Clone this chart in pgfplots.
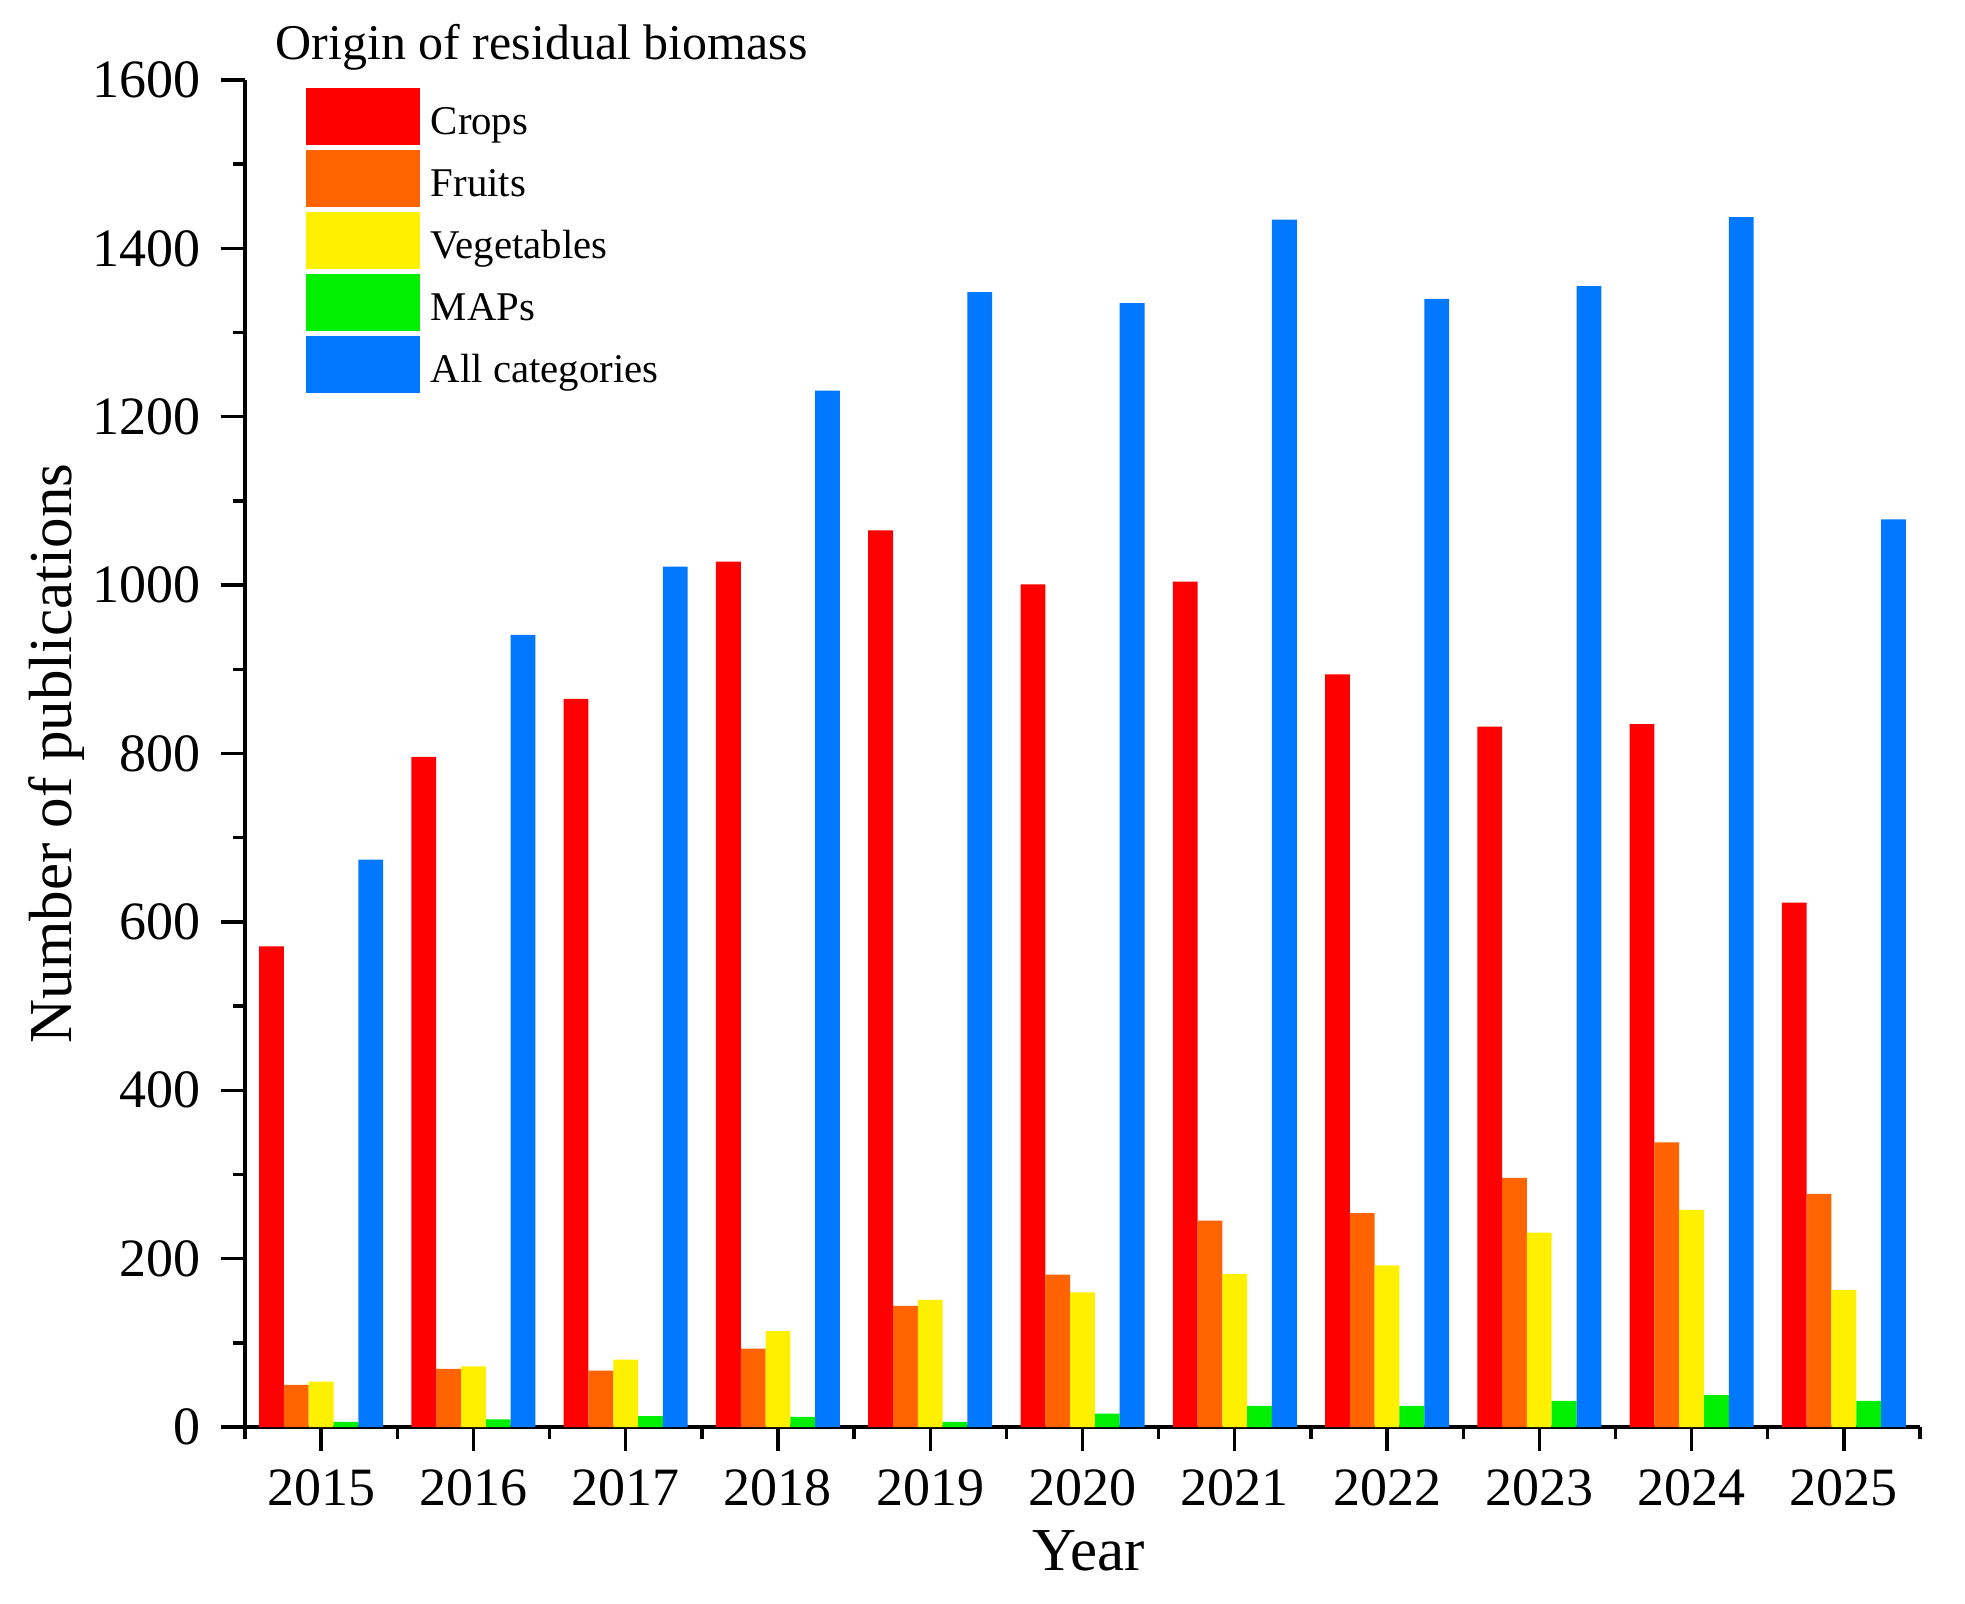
\documentclass[border=0pt]{standalone}
\usepackage{pgfplots}
\pgfplotsset{compat=1.18}
\usepackage{pgfplotstable}
\usepackage{fontspec}
\setmainfont{Liberation Serif}
\definecolor{cCrops}{HTML}{FF0000}
\definecolor{cFruits}{HTML}{FF6400}
\definecolor{cVeg}{HTML}{FFF000}
\definecolor{cMAPs}{HTML}{00F000}
\definecolor{cAll}{HTML}{0078FF}
\pgfplotstableread{
year crops fruits veg maps all
2015 571 50 54 6 674
2016 796 69 72 9 941
2017 865 67 80 13 1022
2018 1028 93 114 12 1231
2019 1065 144 151 6 1348
2020 1001 181 160 16 1335
2021 1004 245 182 25 1434
2022 894 254 192 25 1340
2023 832 296 231 31 1355
2024 835 338 258 38 1437
2025 623 277 163 31 1078
}\datatable
\begin{document}
\begin{tikzpicture}
\begin{axis}[
  name=ax,
  scale only axis,
  width=418.75pt, height=336.75pt,
  anchor=south west, at={(0,0)},
  xmin=2014.5, xmax=2025.5,
  ymin=0, ymax=1600,
  axis lines*=left,
  axis line style={line width=0.85pt,-},
  tick style={line width=0.85pt, black},
  tick align=outside,
  major tick length=6pt,
  minor tick length=3pt,
  xtick={2015,2016,2017,2018,2019,2020,2021,2022,2023,2024,2025},
  xticklabels={2015,2016,2017,2018,2019,2020,2021,2022,2023,2024,2025},
  minor xtick={2014.5,2015.5,2016.5,2017.5,2018.5,2019.5,2020.5,2021.5,2022.5,2023.5,2024.5,2025.5},
  ytick={0,200,400,600,800,1000,1200,1400,1600},
  minor ytick={100,300,500,700,900,1100,1300,1500},
  /pgf/number format/assume math mode=true,
  /pgf/number format/1000 sep={},
  tick label style={font=\fontsize{13.5}{16}\selectfont},
  xticklabel style={yshift=-1pt},
  yticklabel style={xshift=-1.5pt},
  xlabel={Year},
  ylabel={Number of publications},
  label style={font=\fontsize{15.25}{18}\selectfont},
  xlabel style={at={([xshift=1.5pt,yshift=-31pt]rel axis cs:0.5,0)}, anchor=center},
  ylabel style={at={([xshift=-47pt]rel axis cs:0,0.5)}, anchor=center},
  ybar=0pt,
  bar width=6.2pt,
  clip=false,
  legend cell align=left,
  legend image code/.code={\fill (0pt,-5.3pt) rectangle (28.5pt,8.95pt);},
  legend style={
    at={([xshift=15pt,yshift=-1.75pt]rel axis cs:0,1)}, anchor=north west,
    draw=none, fill=none, inner sep=0pt,
    font=\fontsize{10.2}{12}\selectfont,
    row sep=1.25pt, column sep=0pt,
    nodes={inner ysep=0.5pt, inner xsep=2.75pt},
  },
]
\addplot[fill=cCrops, draw=none] table[x=year, y=crops] {\datatable};
\addlegendentry{Crops}
\addplot[fill=cFruits, draw=none] table[x=year, y=fruits] {\datatable};
\addlegendentry{Fruits}
\addplot[fill=cVeg, draw=none] table[x=year, y=veg] {\datatable};
\addlegendentry{Vegetables}
\addplot[fill=cMAPs, draw=none] table[x=year, y=maps] {\datatable};
\addlegendentry{MAPs}
\addplot[fill=cAll, draw=none] table[x=year, y=all] {\datatable};
\addlegendentry{All categories}
\node[anchor=base west, inner sep=0pt, font=\fontsize{12.5}{14}\selectfont] at ([xshift=7.5pt,yshift=5pt]rel axis cs:0,1) {Origin of residual biomass};
\end{axis}
\pgfresetboundingbox
\path (ax.south west) ++(-61.25pt,-44pt) rectangle ++(491.25pt,400.75pt);
\end{tikzpicture}
\end{document}
